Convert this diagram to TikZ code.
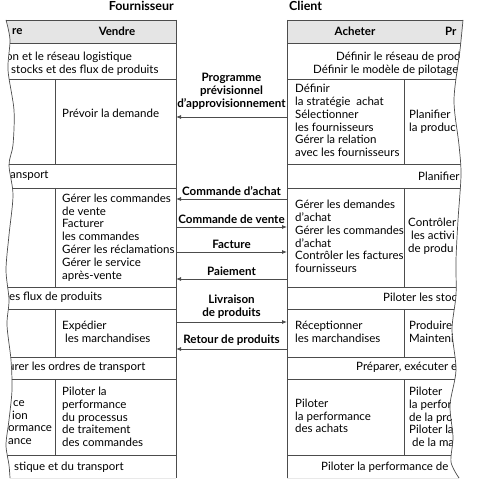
\documentclass[tikz,border=0pt]{standalone}
\usepackage{fontspec}
\setmainfont{Lato}
\usetikzlibrary{arrows.meta}
\definecolor{headgray}{gray}{0.9}
\definecolor{linegray}{gray}{0.3}
\tikzset{
  >={Latex[length=5pt,width=4pt]},
  cell/.style={anchor=west,align=left,inner sep=0pt,font=\fontsize{11.5}{12.8}\selectfont},
  headtext/.style={inner sep=0pt,font=\bfseries\fontsize{11.5}{12}\selectfont},
  partytitle/.style={inner sep=0pt,font=\bfseries\fontsize{12.5}{13}\selectfont},
  flowlabel/.style={above=2pt,inner sep=1pt,align=center,font=\bfseries\fontsize{11.6}{13}\selectfont},
  frame/.style={draw=linegray,line width=0.7pt},
  flow/.style={->,draw=linegray,line width=0.8pt},
}
\begin{document}
\begin{tikzpicture}[x=1pt,y=-1pt]
  \useasboundingbox (0,0) rectangle (485,481);
  \node[partytitle,anchor=east] (fourn) at (174,6) {Fournisseur};
  \node[partytitle,anchor=west] (client) at (289,6) {Client};

  \begin{scope}
    \clip plot[smooth] coordinates {(6,20) (10,40) (8,70) (14,110) (13,145) (9,165) (13,195) (9,235) (6,270) (9,300) (7,325) (11,360) (12,390) (9,420) (6,445) (9,465) (10,478)}
      -- (176,478) -- (176,20) -- cycle;
    \fill[headgray] (0,20) rectangle (176,43);
    \foreach \y in {20,43,79,164,188,287,309,357,379,455,478}
      \draw[frame] (0,\y) -- (176,\y);
    \foreach \a/\b in {79/164,188/287,309/357,379/455}
      \draw[frame] (55,\a) -- (55,\b);
    \node[headtext,anchor=west] (re) at (12,31.5) {re};
    \node[headtext] (vendre) at (117,31.5) {Vendre};
    \node[cell] (reseau) at (6,63.5) {on et le réseau logistique\\\hspace*{5pt}stocks et des flux de produits};
    \node[cell] (prevoir) at (62,113) {Prévoir la demande};
    \node[cell] (transport) at (10,176) {ansport};
    \node[cell] (commandes) at (62,237.5) {Gérer les commandes\\de vente\\Facturer\\les commandes\\Gérer les réclamations\\Gérer le service\\après-vente};
    \node[cell] (flux) at (9,297) {es flux de produits};
    \node[cell] (expedier) at (62,331.5) {Expédier\\\hspace*{3pt}les marchandises};
    \node[cell] (ordres) at (8,367) {urer les ordres de transport};
    \node[cell] (perfcut) at (8,422.5) {\hspace*{5pt}ce\\\hspace*{4pt}ion\\ormance\\ance};
    \node[cell] (perfcmd) at (62,417) {Piloter la\\performance\\du processus\\de traitement\\des commandes};
    \node[cell] (logist) at (14,467) {stique et du transport};
  \end{scope}
  \draw[frame] (176,20) -- (176,478);
  \draw[frame] plot[smooth] coordinates {(6,20) (10,40) (8,70) (14,110) (13,145) (9,165) (13,195) (9,235) (6,270) (9,300) (7,325) (11,360) (12,390) (9,420) (6,445) (9,465) (10,478)};

  \begin{scope}
    \clip (287,20) -- plot[smooth] coordinates {(463,20) (460,50) (454,100) (459,145) (461,175) (458,220) (456,260) (456,295) (452,330) (456,370) (450,405) (453,437) (451,462) (459,478)}
      -- (287,478) -- cycle;
    \fill[headgray] (287,20) rectangle (485,43);
    \foreach \y in {20,43,79,164,188,287,309,357,379,455,478}
      \draw[frame] (287,\y) -- (485,\y);
    \foreach \a/\b in {79/164,188/287,309/357,379/455}
      \draw[frame] (404,\a) -- (404,\b);
    \node[headtext] (acheter) at (355,31.5) {Acheter};
    \node[headtext,anchor=west] (pr) at (445,31.5) {Pr};
    \node[cell] (definir) at (313,63.5) {\hspace*{23pt}Définir le réseau de produ\\Définir le modèle de pilotage d};
    \node[cell] (strategie) at (295,120.5) {Définir\\la stratégie~ achat\\Sélectionner\\les fournisseurs\\Gérer la relation\\avec les fournisseurs};
    \node[cell] (planprod) at (409,122) {Planifier\\la produc};
    \node[cell] (planifier) at (418,176) {Planifier};
    \node[cell] (demandes) at (295,236.5) {Gérer les demandes\\d’achat\\Gérer les commandes\\d’achat\\Contrôler les factures\\fournisseurs};
    \node[cell] (controler) at (408,236) {Contrôler\\\hspace*{3pt}les activi\\de produ};
    \node[cell] (stocks) at (383,297) {Piloter les stoc};
    \node[cell] (receptionner) at (295,331.5) {Réceptionner\\les marchandises};
    \node[cell] (produire) at (409,331.5) {Produire\\Maintenir};
    \node[cell] (preparer) at (356,367) {Préparer, exécuter e};
    \node[cell] (perfachats) at (295,416) {Piloter\\la performance\\des achats};
    \node[cell] (perfprod) at (409,417) {Piloter\\la perform\\de la pro\\Piloter la\\\hspace*{3pt}de la ma};
    \node[cell] (perfglob) at (321,467) {Piloter la performance de};
  \end{scope}
  \draw[frame] (287,20) -- (287,478);
  \draw[frame] plot[smooth] coordinates {(463,20) (460,50) (454,100) (459,145) (461,175) (458,220) (456,260) (456,295) (452,330) (456,370) (450,405) (453,437) (451,462) (459,478)};

  \foreach \n/\y in {1/117,2/199,3/227,4/252,5/279,6/322,7/349} {
    \coordinate (v\n) at (176,\y);
    \coordinate (a\n) at (287,\y);
  }
  \draw[flow] (a1) -- node[flowlabel,above=4pt] {Programme\\prévisionnel\\d’approvisionnement} (v1);
  \draw[flow] (a2) -- node[flowlabel] {Commande d’achat} (v2);
  \draw[flow] (v3) -- node[flowlabel] {Commande de vente} (a3);
  \draw[flow] (v4) -- node[flowlabel] {Facture} (a4);
  \draw[flow] (a5) -- node[flowlabel] {Paiement} (v5);
  \draw[flow] (v6) -- node[flowlabel] {Livraison\\de produits} (a6);
  \draw[flow] (a7) -- node[flowlabel] {Retour de produits} (v7);
\end{tikzpicture}
\end{document}
